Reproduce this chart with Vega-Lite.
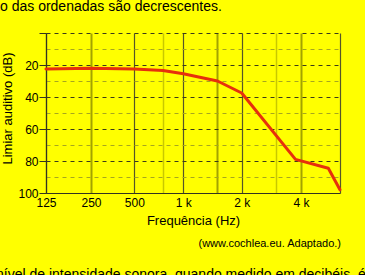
{
  "$schema": "https://vega.github.io/schema/vega-lite/v6.json",
  "width": 294,
  "height": 160,
  "autosize": {"type": "none"},
  "padding": {"left": 46, "top": 33, "right": 25, "bottom": 82},
  "background": "#ffff00",
  "config": {"view": {"stroke": null}, "font": "Liberation Sans"},
  "layer": [
    {
      "data": {
        "values": [
          {"freq": 125, "db": 22.5},
          {"freq": 250, "db": 22},
          {"freq": 500, "db": 22.5},
          {"freq": 750, "db": 23.5},
          {"freq": 1000, "db": 25.5},
          {"freq": 1500, "db": 30},
          {"freq": 2000, "db": 37.5},
          {"freq": 3750, "db": 79},
          {"freq": 6500, "db": 84.5},
          {"freq": 8000, "db": 98}
        ]
      },
      "mark": {"type": "line", "color": "#e6300c", "strokeWidth": 3, "strokeCap": "round", "strokeJoin": "round"},
      "encoding": {
        "x": {
          "field": "freq",
          "type": "quantitative",
          "scale": {
            "type": "log",
            "domain": [125, 250, 500, 1000, 2000, 4000, 8000],
            "range": [0, 45, 88.3, 137.3, 195.7, 255, 294],
            "nice": false
          },
          "axis": {
            "title": "Frequência (Hz)",
            "titleFontSize": 13,
            "titleFontWeight": "normal",
            "titleColor": "#000000",
            "titlePadding": 6,
            "values": [125, 250, 500, 750, 1000, 1500, 2000, 3000, 4000, 8000],
            "tickCount": 12,
            "labelExpr": "datum.value === 1000 ? '1 k' : datum.value === 2000 ? '2 k' : datum.value === 4000 ? '4 k' : (datum.value === 125 || datum.value === 250 || datum.value === 500) ? '' + datum.value : ''",
            "labelFontSize": 12,
            "labelColor": "#000000",
            "labelPadding": 4,
            "labelFlush": false,
            "labelOverlap": false,
            "ticks": false,
            "domainColor": "#333322",
            "domainWidth": 1.2,
            "grid": true,
            "gridDash": [],
            "gridOpacity": 1,
            "gridColor": {
              "condition": [
                {"test": "datum.value === 250 || datum.value === 1500 || datum.value === 4000", "value": "#a3a300"},
                {"test": "datum.value === 750 || datum.value === 3000", "value": "#c8c800"}
              ],
              "value": "#55552a"
            },
            "gridWidth": {
              "condition": [
                {"test": "datum.value === 250 || datum.value === 1500 || datum.value === 4000", "value": 2},
                {"test": "datum.value === 750 || datum.value === 3000", "value": 1.5}
              ],
              "value": 1.2
            }
          }
        },
        "y": {
          "field": "db",
          "type": "quantitative",
          "scale": {"domain": [0, 100], "reverse": true, "nice": false},
          "axis": {
            "title": "Limiar auditivo (dB)",
            "titleFontSize": 13,
            "titleFontWeight": "normal",
            "titleColor": "#000000",
            "titlePadding": 3,
            "titleY": 75,
            "values": [0, 10, 20, 30, 40, 50, 60, 70, 80, 90, 100],
            "tickCount": 12,
            "labelExpr": "datum.value % 20 === 0 && datum.value > 0 ? '' + datum.value : ''",
            "labelFontSize": 12,
            "labelColor": "#000000",
            "labelPadding": 1,
            "labelOverlap": false,
            "labelFlush": false,
            "tickSize": 7,
            "tickColor": "#333322",
            "tickOpacity": {"condition": {"test": "datum.value % 20 === 0", "value": 1}, "value": 0},
            "domainColor": "#333322",
            "domainWidth": 1.2,
            "grid": true,
            "gridDash": [4, 4],
            "gridOpacity": 1,
            "gridColor": {"condition": {"test": "datum.value % 20 === 0", "value": "#3a3a1a"}, "value": "#a6a61e"},
            "gridWidth": 1
          }
        }
      }
    },
    {
      "data": {"values": [{"t": "o das ordenadas são decrescentes."}]},
      "mark": {"type": "text", "align": "left", "baseline": "alphabetic", "fontSize": 14, "dx": -46, "color": "#000000", "font": "Liberation Sans"},
      "encoding": {
        "x": {"datum": 125},
        "y": {"datum": -13.75},
        "text": {"field": "t"}
      }
    },
    {
      "data": {"values": [{"t": "(www.cochlea.eu. Adaptado.)"}]},
      "mark": {"type": "text", "align": "right", "baseline": "alphabetic", "fontSize": 11, "dx": 1, "color": "#000000", "font": "Liberation Sans"},
      "encoding": {
        "x": {"datum": 8000},
        "y": {"datum": 134},
        "text": {"field": "t"}
      }
    },
    {
      "data": {"values": [{"t": "nível de intensidade sonora, quando medido em decibéis, é"}]},
      "mark": {"type": "text", "align": "left", "baseline": "alphabetic", "fontSize": 14, "dx": -50, "color": "#000000", "font": "Liberation Sans"},
      "encoding": {
        "x": {"datum": 125},
        "y": {"datum": 153.5},
        "text": {"field": "t"}
      }
    }
  ]
}
